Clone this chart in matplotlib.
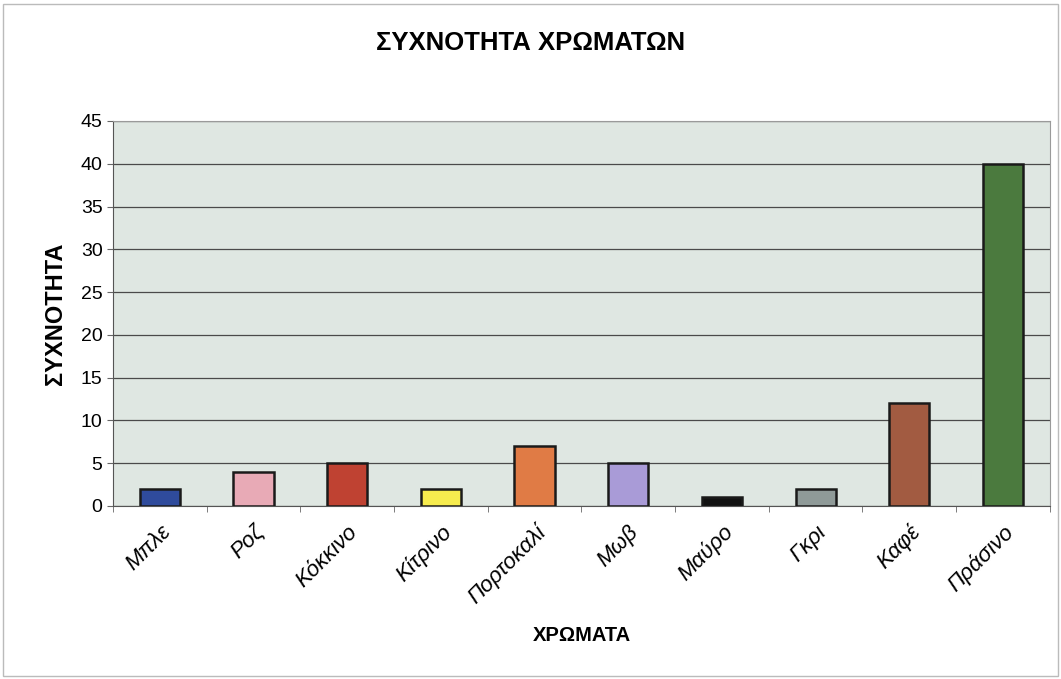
import matplotlib.pyplot as plt
import numpy as np

plt.rcParams['font.family'] = ['Liberation Sans', 'DejaVu Sans']

# Δεδομένα
xromata = ['Μπλε', 'Ροζ', 'Κόκκινο', 'Κίτρινο', 'Πορτοκαλί',
           'Μωβ', 'Μαύρο', 'Γκρι', 'Καφέ', 'Πράσινο']
syxnotita = [2, 4, 5, 2, 7, 5, 1, 2, 12, 40]
bar_colors = ['#2f4b9c', '#e8aab6', '#bf4232', '#f7ec4e', '#e07b45',
              '#a99bd7', '#121212', '#8f9a98', '#a25b41', '#4b7a3e']

fig = plt.figure(figsize=(10.61, 6.79), dpi=100)
ax = fig.add_axes([0.1065, 0.2548, 0.883, 0.567])
ax.set_facecolor('#dfe7e2')

x = np.arange(len(xromata))
ax.bar(x, syxnotita, width=0.43, color=bar_colors,
       edgecolor='#1a1a1a', linewidth=1.8, zorder=3)

ax.set_xlim(-0.5, len(xromata) - 0.5)
ax.set_ylim(0, 45)
ax.set_yticks(np.arange(0, 46, 5))
ax.yaxis.grid(True, color='#4a4a4a', linewidth=0.9, zorder=0)
ax.tick_params(axis='y', labelsize=14, length=4, color='#666666')

ax.set_xticks(x)
ax.set_xticklabels(xromata, rotation=45, ha='right', rotation_mode='anchor',
                   fontstyle='italic', fontsize=16)
ax.tick_params(axis='x', which='major', length=0, pad=11)
ax.set_xticks(np.arange(-0.5, len(xromata), 1), minor=True)
ax.tick_params(axis='x', which='minor', length=4, color='#666666')

for side in ['top', 'right']:
    ax.spines[side].set_color('#9a9a9a')
ax.spines['left'].set_color('#555555')
ax.spines['bottom'].set_color('#555555')

ax.set_ylabel('ΣΥΧΝΟΤΗΤΑ', fontsize=17, fontweight='bold', labelpad=10)
ax.set_xlabel('ΧΡΩΜΑΤΑ', fontsize=14.5, fontweight='bold', labelpad=13)
fig.suptitle('ΣΥΧΝΟΤΗΤΑ ΧΡΩΜΑΤΩΝ', fontsize=18.5, fontweight='bold', y=0.955)

# πλαίσιο γύρω από το γράφημα
fig.patches.append(plt.Rectangle((0.003, 0.004), 0.994, 0.99, transform=fig.transFigure,
                                 fill=False, edgecolor='#bbbbbb', linewidth=1))

plt.savefig('out.png', dpi=100)
